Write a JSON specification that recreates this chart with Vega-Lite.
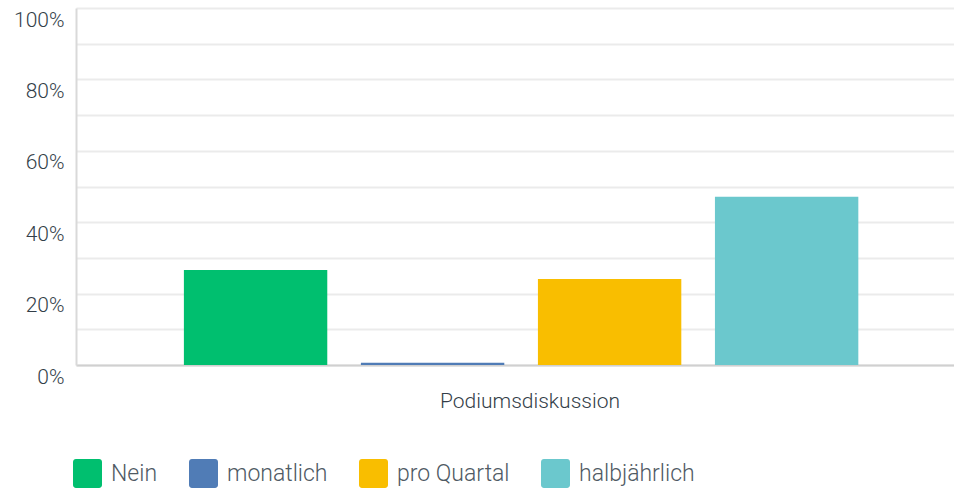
{
  "$schema": "https://vega.github.io/schema/vega-lite/v6.json",
  "width": 878,
  "height": 357,
  "autosize": {"type": "none"},
  "padding": {"left": 76, "top": 8, "right": 0, "bottom": 125},
  "background": "white",
  "config": {
    "view": {"stroke": null},
    "font": "Roboto"
  },
  "data": {
    "values": [
      {"frage": "Podiumsdiskussion", "antwort": "Nein", "prozent": 26.6},
      {"frage": "Podiumsdiskussion", "antwort": "monatlich", "prozent": 0.6},
      {"frage": "Podiumsdiskussion", "antwort": "pro Quartal", "prozent": 24.1},
      {"frage": "Podiumsdiskussion", "antwort": "halbjährlich", "prozent": 47.1}
    ]
  },
  "mark": {"type": "bar"},
  "encoding": {
    "x": {
      "field": "frage",
      "type": "nominal",
      "scale": {"paddingInner": 0, "paddingOuter": 0},
      "axis": {
        "title": null,
        "labelAngle": 0,
        "labelFontSize": 21,
        "labelFontWeight": 300,
        "labelColor": "#333e48",
        "labelPadding": 25,
        "labelOffset": 15,
        "labelLimit": 500,
        "ticks": false,
        "domainColor": "#d0d0d0",
        "domainWidth": 2
      }
    },
    "xOffset": {
      "field": "antwort",
      "type": "nominal",
      "sort": ["Nein", "monatlich", "pro Quartal", "halbjährlich"],
      "scale": {"paddingInner": 0.19, "paddingOuter": 0.575, "align": 0.53}
    },
    "y": {
      "field": "prozent",
      "type": "quantitative",
      "scale": {"domain": [0, 100], "nice": false},
      "axis": {
        "title": null,
        "values": [0, 10, 20, 30, 40, 50, 60, 70, 80, 90, 100],
        "labelExpr": "datum.value % 20 === 0 ? datum.value + '%' : ''",
        "labelFontSize": 21,
        "labelFontWeight": 300,
        "labelColor": "#333e48",
        "labelPadding": 12,
        "labelOffset": 12,
        "ticks": false,
        "domainColor": "#d9d9d9",
        "domainWidth": 2,
        "gridColor": "#ebebeb",
        "gridWidth": 2
      }
    },
    "color": {
      "field": "antwort",
      "type": "nominal",
      "sort": ["Nein", "monatlich", "pro Quartal", "halbjährlich"],
      "scale": {
        "domain": ["Nein", "monatlich", "pro Quartal", "halbjährlich"],
        "range": ["#00bf6f", "#507cb6", "#f9be00", "#6bc8cd"]
      },
      "legend": {
        "title": null,
        "orient": "none",
        "direction": "horizontal",
        "legendX": -3,
        "legendY": 451,
        "symbolType": "M-0.8,-1H0.8A0.2,0.2 0 0 1 1,-0.8V0.8A0.2,0.2 0 0 1 0.8,1H-0.8A0.2,0.2 0 0 1 -1,0.8V-0.8A0.2,0.2 0 0 1 -0.8,-1Z",
        "symbolSize": 841,
        "symbolStrokeWidth": 0,
        "symbolOpacity": 1,
        "labelFontSize": 23,
        "labelFontWeight": 300,
        "labelColor": "#4f5a64",
        "labelOffset": 9,
        "columnPadding": 30,
        "labelLimit": 300
      }
    }
  }
}
